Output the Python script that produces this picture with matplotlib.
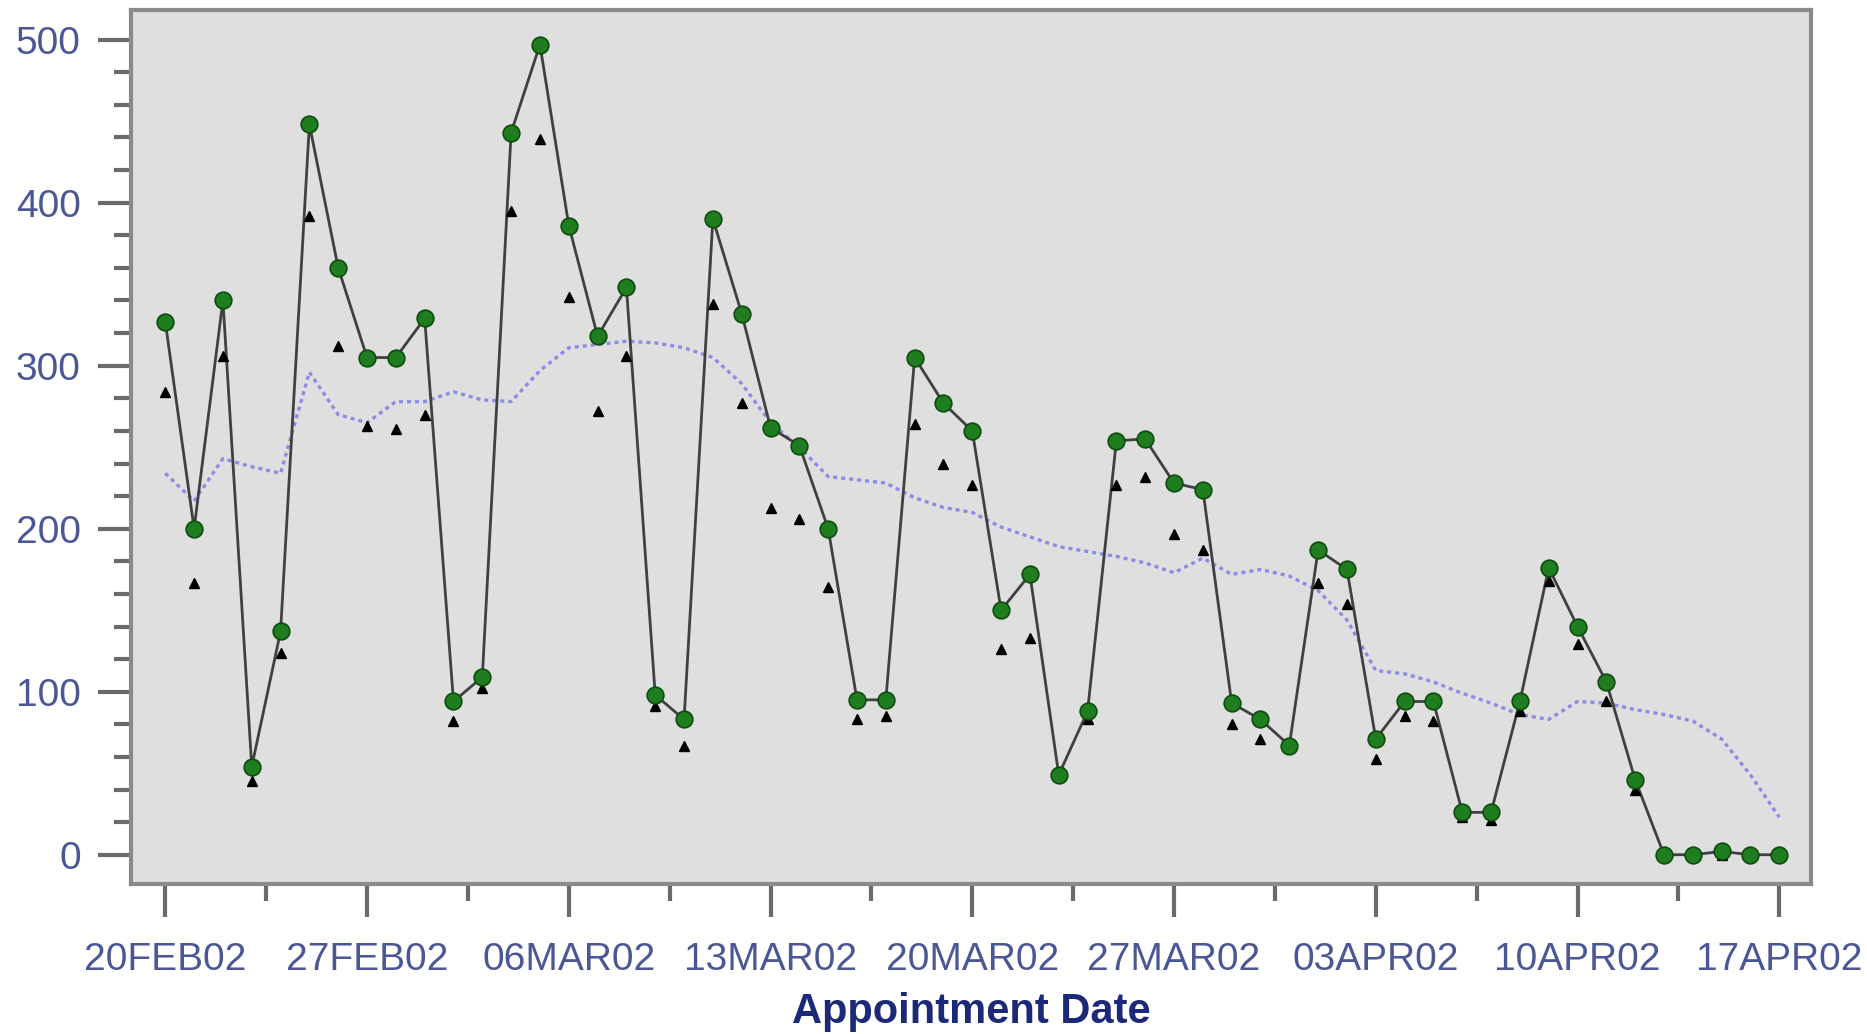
import numpy as np
import matplotlib
matplotlib.use("Agg")
from matplotlib import pyplot as plt
from matplotlib.ticker import MultipleLocator

plt.rcParams['font.family'] = ['Liberation Sans', 'DejaVu Sans']

# one value per day, 20FEB02 .. 17APR02
day = np.arange(57)

# green dots (joined by the line)
total = [327, 200, 340, 54, 137, 448, 360, 305, 305, 329,
         94, 109, 443, 497, 386, 318, 348, 98, 83, 390,
         332, 262, 251, 200, 95, 95, 305, 277, 260, 150,
         172, 49, 88, 254, 255, 228, 224, 93, 83, 67,
         187, 175, 71, 94, 94, 26, 26, 94, 176, 140,
         106, 46, 0, 0, 2, 0, 0]

# small black triangles
kept = [284, 167, 306, 45, 124, 392, 312, 263, 261, 270,
        82, 102, 395, 439, 342, 272, 306, 91, 67, 338,
        277, 213, 206, 164, 83, 85, 264, 240, 227, 126,
        133, 49, 83, 227, 232, 197, 187, 80, 71, 67,
        167, 154, 59, 85, 82, 23, 21, 88, 168, 129,
        94, 40, 0, 0, 0, 0, 0]

# dotted smooth trend
trend = [234, 217, 243, 238, 234, 296, 270, 265, 278, 278,
         284, 279, 278, 297, 311, 313, 315, 314, 311, 305,
         289, 265, 250, 232, 230, 228, 219, 213, 210, 201,
         195, 189, 186, 183, 179, 173, 182, 172, 175, 171,
         162, 144, 113, 111, 106, 99, 93, 86, 83, 94,
         93, 89, 86, 82, 71, 49, 23]

tick_days = [0, 7, 14, 21, 28, 35, 42, 49, 56]
tick_labels = ['20FEB02', '27FEB02', '06MAR02', '13MAR02', '20MAR02',
               '27MAR02', '03APR02', '10APR02', '17APR02']

fig = plt.figure(figsize=(18.67, 10.34), dpi=100)
ax = fig.add_axes([0.070, 0.145, 0.900, 0.845])
ax.set_facecolor('#dfdfdf')

ax.plot(day, trend, linestyle=(0, (1.2, 1.2)), color='#8c8ce6', lw=2.4, zorder=2)
ax.plot(day, total, '-', color='#404040', lw=2.0, zorder=3)
ax.plot(day, kept, '^', color='black', ms=7, mec='black', zorder=4, linestyle='none')
ax.plot(day, total, 'o', color='#1f7d1f', mec='#0d4d0d', mew=1.2, ms=12,
        zorder=5, linestyle='none')

ax.set_xlim(-1.2, 57.1)
ax.set_ylim(-18, 518)

ax.set_xticks(tick_days)
ax.set_xticklabels(tick_labels)
ax.xaxis.set_minor_locator(MultipleLocator(3.5))
ax.yaxis.set_major_locator(MultipleLocator(100))
ax.yaxis.set_minor_locator(MultipleLocator(20))

for s in ax.spines.values():
    s.set_color('#8a8a8a')
    s.set_linewidth(3)

ax.tick_params(axis='both', which='major', direction='out', length=24, width=3,
               color='#6a6a6a', labelsize=28, labelcolor='#4a5794')
ax.tick_params(axis='both', which='minor', direction='out', length=12, width=3,
               color='#6a6a6a')
ax.tick_params(axis='y', which='major', pad=12)
ax.tick_params(axis='x', which='major', pad=18)

ax.set_xlabel('Appointment Date', fontsize=30, fontweight='bold', color='#1c2878',
              labelpad=10)

fig.savefig('out.png', dpi=100, facecolor='white')
